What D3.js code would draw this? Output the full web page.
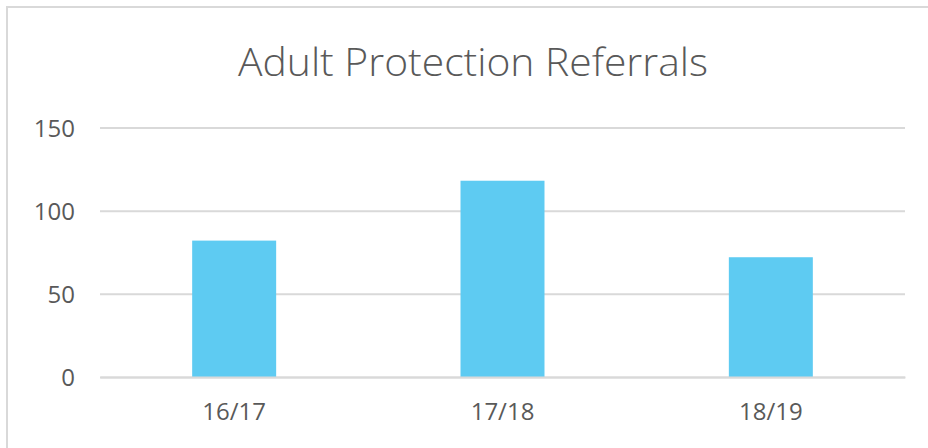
<!doctype html>
<html lang="en">
  <head>
    <meta charset="UTF-8">
    <title>Adult Protection Referrals</title>
    <style>
      body { margin: 0; background: #fff; }
      .tick text { font-family: "Open Sans", sans-serif; font-size: 24px; fill: #595959; }
      .title { font-family: "Open Sans", sans-serif; font-weight: 300; font-size: 38px; fill: #595959; }
    </style>
  </head>
  <body>
    <svg width="928" height="448"></svg>
    <script src="https://d3js.org/d3.v7.min.js"></script>
    <script>
      var years = ["16/17", "17/18", "18/19"];
      var referrals = [82, 118, 72];
      var yTicks = [0, 50, 100, 150];

      var svg = d3.select("svg");

      // chart frame
      svg.append("rect")
        .attr("x", 7).attr("y", 7)
        .attr("width", 940).attr("height", 460)
        .attr("fill", "#fff")
        .attr("stroke", "#d9d9d9")
        .attr("stroke-width", 2);

      var x = d3.scaleBand()
        .domain(years)
        .range([100, 905])
        .paddingInner(0.687)
        .paddingOuter(0.687 / 2);

      var y = d3.scaleLinear()
        .domain([0, 150])
        .range([377, 127.5]);

      // gridlines + labels
      var yAxis = svg.append("g")
        .attr("transform", "translate(100,0)")
        .call(d3.axisLeft(y).tickValues(yTicks).tickSize(-805).tickPadding(25));
      yAxis.select(".domain").remove();
      yAxis.selectAll(".tick line").attr("stroke", "#d9d9d9").attr("stroke-width", 2);
      yAxis.selectAll(".tick text").attr("dy", "0.36em");

      svg.append("g")
        .selectAll("rect")
        .data(referrals)
        .join("rect")
        .attr("x", function (d, i) { return x(years[i]); })
        .attr("y", function (d) { return y(d); })
        .attr("width", x.bandwidth())
        .attr("height", function (d) { return y(0) - y(d); })
        .attr("fill", "#5ecbf2");

      var xAxis = svg.append("g")
        .attr("transform", "translate(0," + y(0) + ")")
        .call(d3.axisBottom(x).tickSize(0).tickPadding(26));
      xAxis.select(".domain").attr("stroke", "#d9d9d9").attr("stroke-width", 2);

      svg.append("text")
        .attr("class", "title")
        .attr("x", 473)
        .attr("y", 76)
        .attr("text-anchor", "middle")
        .attr("textLength", 470)
        .attr("lengthAdjust", "spacingAndGlyphs")
        .text("Adult Protection Referrals");
    </script>
  </body>
</html>
